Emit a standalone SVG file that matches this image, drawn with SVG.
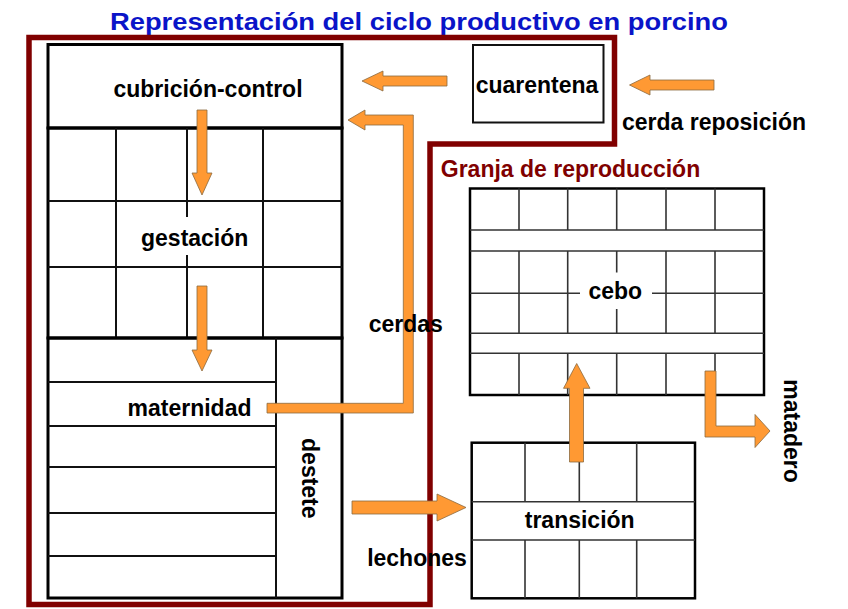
<svg xmlns="http://www.w3.org/2000/svg" width="848" height="609" viewBox="0 0 848 609">
<style>
text{font-family:"Liberation Sans",Arial,sans-serif;font-weight:bold;font-size:23px;fill:#000}
.title{fill:#0a14c8;font-size:24px}
.red{fill:#800000}
.frame{fill:none;stroke:#000;stroke-width:3}
.box{fill:none;stroke:#000;stroke-width:2.5}
.ln{stroke:#111;stroke-width:2;fill:none}
.tn{stroke:#333;stroke-width:1.6;fill:none}
.arr{fill:#ff9933;stroke:#8a6a40;stroke-width:0.8;stroke-linejoin:miter}
.border{fill:none;stroke:#800000;stroke-width:5.5}
</style>
<rect width="848" height="609" fill="#fff"/>
<text class="title" x="110" y="29.5" textLength="618" lengthAdjust="spacingAndGlyphs">Representación del ciclo productivo en porcino</text>

<g id="granja-border">
<polygon class="border" points="29,37.5 614.5,37.5 614.5,144 430,144 430,604.5 29,604.5"/>
</g>

<g id="cubricion">
<rect class="frame" x="48" y="44.5" width="294" height="83.5"/>
</g>
<g id="gestacion">
<rect class="frame" x="48" y="128" width="294" height="210"/>
<path class="ln" d="M48,201H342M48,267H342M116,128V338M263,128V338M187,128V217M187,255V338"/>
</g>
<g id="maternidad">
<rect class="frame" x="48" y="338" width="294" height="260"/>
<path class="ln" d="M276,338V598M48,382H276M48,426H276M48,467H276M48,513H276M48,556H276"/>
</g>
<g id="cuarentena">
<rect class="ln" x="473" y="45" width="130.5" height="77.5"/>
</g>
<g id="cebo">
<rect class="box" x="470" y="188.5" width="294" height="206.5"/>
<path class="tn" d="M470,230H764M470,251H764M470,333.3H764M470,353.3H764M470,293.3H580M652,293.3H764
M519,188.5V230M567.7,188.5V230M616.7,188.5V230M666,188.5V230M715,188.5V230
M519,251V333.3M567.7,251V333.3M616.7,251V272.5M616.7,309V333.3M666,251V333.3M715,251V333.3
M519,353.3V395M567.7,353.3V395M616.7,353.3V395M666,353.3V395M715,353.3V395"/>
</g>
<g id="transicion">
<rect class="box" x="471.7" y="442.7" width="223.3" height="155.6"/>
<path class="tn" d="M471.7,501.7H695M471.7,540H695M525,442.7V501.7M579.3,442.7V501.7M636.7,442.7V501.7M525,540V598.3M579.3,540V598.3M636.7,540V598.3"/>
</g>

<g id="connectors">
<polygon class="arr" points="197,110 207,110 207,173 212,173 202,195 192,173 197,173"/>
<polygon class="arr" points="197,286 207,286 207,350 212,350 202,371 192,350 197,350"/>
<polygon class="arr" points="362,81 383,71 383,76 447,76 447,86 383,86 383,91"/>
<polygon class="arr" points="629.5,85 650,75 650,80 714,80 714,90 650,90 650,95"/>
<polygon class="arr" points="348,120 365,110 365,115 413.3,115 413.3,413 267,413 267,403.3 403.3,403.3 403.3,125 365,125 365,130"/>
<polygon class="arr" points="352,501 437,501 437,494 466,507.5 437,521 437,514 352,514"/>
<polygon class="arr" points="569.5,462 569.5,388.3 563.5,388.3 576.7,363.5 590,388.3 583.5,388.3 583.5,462"/>
<polygon class="arr" points="705,371 716,371 716,426 755,426 755,414.5 770,431 755,447.5 755,437 705,437"/>
</g>

<g id="labels">
<text x="208" y="96.5" text-anchor="middle">cubrición-control</text>
<text x="194.7" y="246" text-anchor="middle">gestación</text>
<text x="189.5" y="416" text-anchor="middle">maternidad</text>
<text transform="translate(302,478.3) rotate(90)" text-anchor="middle">destete</text>
<text x="405.8" y="331.7" text-anchor="middle">cerdas</text>
<text x="417" y="566" text-anchor="middle">lechones</text>
<text x="537" y="92.7" text-anchor="middle">cuarentena</text>
<text x="714" y="130" text-anchor="middle">cerda reposición</text>
<text class="red" x="570.5" y="176.7" text-anchor="middle">Granja de reproducción</text>
<text x="615.3" y="299.3" text-anchor="middle">cebo</text>
<text x="579.7" y="528.3" text-anchor="middle">transición</text>
<text transform="translate(783.5,431) rotate(90)" text-anchor="middle">matadero</text>
</g>
</svg>
